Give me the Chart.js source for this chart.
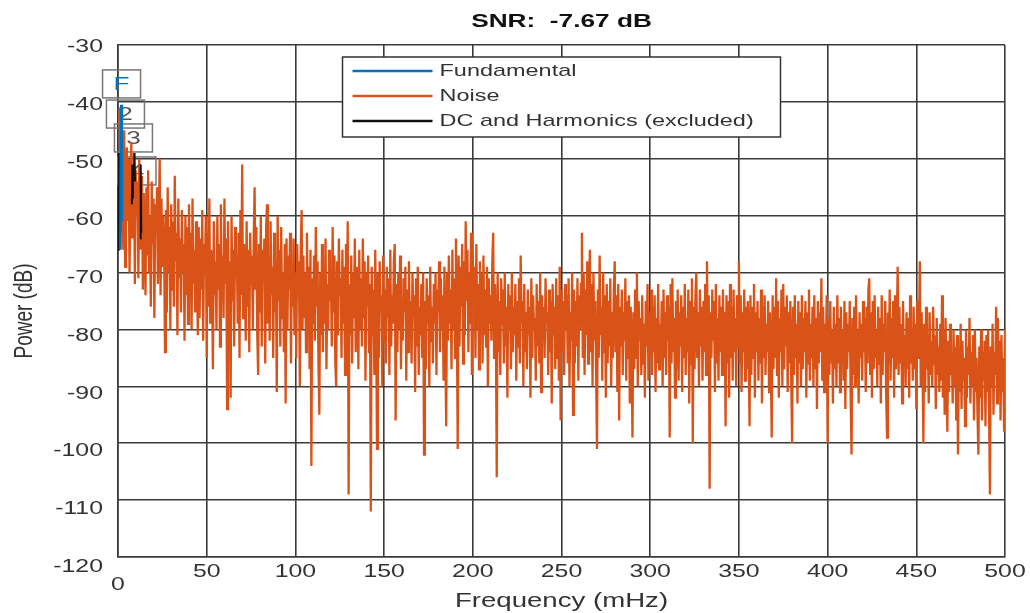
<!DOCTYPE html>
<html>
<head>
<meta charset="utf-8">
<script src="https://cdn.jsdelivr.net/npm/chart.js@4.4.0/dist/chart.umd.min.js"></script>
<style>
  html, body { margin: 0; padding: 0; background: #fff; }
  #wrap { width: 1030px; height: 613px; position: relative; }
</style>
</head>
<body>
<div id="wrap"><canvas id="snrChart"></canvas></div>
<script>
// noise bins every 0.5 mHz from 0.5 to 500 mHz, 5 mHz per row
const binStep = 0.5;
const noiseDb = [
  -44, -41, -63, -47, -58, -66, -45, -69, -52, -48,
  -61, -50, -70, -55, -47, -64, -57, -49, -72, -52,
  -60, -54, -71, -50, -66, -58, -53, -73, -56, -62,
  -74, -55, -67, -52, -70, -60, -76, -54, -65, -57,
  -78, -58, -63, -55, -72, -61, -50, -74, -57, -69,
  -60, -66, -84, -59, -77, -55, -70, -62, -80, -58,
  -73, -61, -76, -53, -68, -63, -81, -57, -71, -64,
  -77, -59, -70, -65, -82, -60, -74, -62, -79, -58,
  -69, -63, -80, -57, -72, -66, -77, -61, -70, -81,
  -62, -78, -64, -73, -59, -82, -65, -70, -60, -85,
  -63, -76, -57, -79, -66, -71, -87, -61, -74, -68,
  -80, -60, -73, -65, -83, -58, -75, -67, -78, -57,
  -72, -64, -94, -61, -80, -68, -92, -60, -75, -66,
  -83, -62, -71, -67, -79, -63, -85, -59, -74, -51,
  -78, -65, -69, -82, -61, -76, -66, -84, -63, -72,
  -67, -80, -64, -55, -73, -62, -81, -88, -65, -77,
  -60, -83, -66, -71, -64, -86, -62, -58, -79, -67,
  -82, -61, -74, -69, -85, -63, -77, -68, -91, -60,
  -75, -66, -83, -62, -78, -70, -84, -65, -93, -64,
  -80, -67, -73, -63, -86, -69, -76, -64, -81, -70,
  -85, -65, -74, -68, -90, -66, -59, -80, -67, -78,
  -70, -84, -63, -77, -69, -87, -66, -104, -71, -79,
  -67, -82, -62, -76, -68, -86, -95, -70, -81, -65,
  -84, -69, -79, -64, -87, -72, -80, -66, -75, -70,
  -83, -62, -77, -67, -86, -90, -68, -81, -64, -74,
  -71, -85, -66, -79, -69, -88, -65, -76, -61, -109,
  -72, -81, -67, -86, -70, -78, -64, -84, -73, -69,
  -87, -66, -80, -71, -83, -64, -78, -68, -89, -70,
  -76, -67, -84, -72, -112, -69, -81, -73, -88, -66,
  -79, -101, -70, -85, -68, -77, -74, -90, -67, -82,
  -73, -86, -69, -78, -71, -88, -66, -83, -74, -79,
  -68, -65, -96, -72, -84, -70, -80, -67, -87, -75,
  -82, -71, -77, -69, -89, -73, -84, -68, -80, -75,
  -86, -70, -78, -74, -91, -71, -83, -69, -88, -76,
  -81, -72, -85, -70, -102, -75, -87, -71, -79, -74,
  -90, -69, -82, -76, -86, -72, -79, -70, -88, -73,
  -77, -68, -84, -71, -80, -74, -89, -69, -83, -97,
  -70, -82, -67, -79, -73, -87, -66, -80, -71, -85,
  -64, -78, -101, -67, -83, -69, -76, -65, -86, -68,
  -81, -61, -75, -66, -84, -70, -79, -63, -88, -67,
  -76, -69, -85, -65, -80, -72, -87, -68, -78, -70,
  -86, -67, -81, -73, -83, -69, -90, -71, -79, -74,
  -82, -68, -63, -85, -72, -80, -106, -70, -84, -75,
  -88, -71, -79, -73, -86, -70, -83, -76, -92, -72,
  -80, -74, -87, -70, -84, -76, -81, -72, -89, -75,
  -83, -71, -86, -67, -79, -75, -90, -72, -84, -77,
  -87, -73, -81, -76, -92, -71, -85, -74, -80, -78,
  -89, -72, -83, -75, -86, -70, -91, -74, -82, -76,
  -85, -71, -79, -77, -88, -73, -84, -75, -93, -72,
  -81, -76, -87, -71, -85, -74, -89, -69, -96, -73,
  -84, -75, -88, -72, -80, -74, -86, -71, -90, -77,
  -82, -70, -95, -73, -86, -75, -83, -71, -89, -74,
  -80, -72, -63, -85, -70, -88, -73, -81, -68, -86,
  -74, -66, -84, -72, -90, -70, -82, -75, -87, -101,
  -73, -85, -67, -81, -76, -89, -70, -84, -74, -92,
  -72, -86, -75, -83, -71, -90, -77, -85, -73, -68,
  -84, -74, -91, -72, -96, -76, -83, -73, -88, -77,
  -82, -71, -89, -75, -85, -74, -93, -76, -84, -99,
  -77, -87, -73, -85, -70, -90, -75, -82, -78, -88,
  -74, -86, -79, -92, -75, -83, -72, -89, -77, -85,
  -73, -88, -76, -84, -74, -91, -78, -86, -72, -87,
  -79, -83, -75, -90, -73, -85, -77, -88, -74, -82,
  -76, -99, -72, -86, -71, -84, -78, -92, -75, -87,
  -73, -89, -77, -83, -74, -91, -76, -85, -72, -88,
  -78, -84, -73, -93, -75, -86, -71, -100, -76, -87,
  -74, -70, -85, -77, -90, -73, -83, -76, -89, -75,
  -84, -72, -88, -68, -86, -74, -108, -77, -85, -73,
  -82, -75, -91, -72, -86, -78, -89, -74, -84, -76,
  -88, -73, -83, -77, -97, -74, -86, -75, -92, -72,
  -85, -76, -89, -73, -84, -78, -90, -74, -83, -68,
  -86, -74, -91, -77, -84, -73, -89, -76, -87, -75,
  -83, -97, -74, -88, -76, -85, -72, -92, -77, -84,
  -75, -89, -78, -86, -73, -93, -76, -85, -74, -88,
  -79, -84, -75, -91, -77, -86, -99, -74, -87, -76,
  -85, -71, -88, -75, -92, -78, -84, -73, -90, -72,
  -87, -76, -83, -74, -91, -77, -86, -75, -89, -100,
  -76, -88, -74, -85, -79, -93, -75, -86, -77, -90,
  -74, -87, -78, -84, -75, -92, -77, -86, -73, -89,
  -79, -85, -76, -90, -74, -87, -78, -94, -75, -86,
  -77, -84, -71, -89, -76, -91, -79, -85, -74, -100,
  -78, -88, -75, -86, -80, -93, -76, -87, -79, -90,
  -74, -86, -78, -91, -76, -85, -80, -89, -75, -94,
  -77, -87, -79, -84, -75, -92, -102, -78, -88, -76,
  -90, -74, -86, -80, -93, -77, -85, -79, -89, -75,
  -84, -78, -91, -76, -86, -73, -71, -88, -77, -92,
  -75, -87, -74, -85, -80, -90, -76, -86, -78, -93,
  -74, -88, -79, -84, -75, -91, -99, -77, -86, -73,
  -89, -78, -85, -75, -92, -74, -87, -80, -69, -88,
  -76, -86, -79, -93, -75, -85, -81, -90, -77, -87,
  -78, -92, -74, -86, -80, -89, -76, -87, -79, -94,
  -75, -85, -80, -68, -90, -77, -86, -100, -79, -91,
  -76, -87, -81, -93, -77, -88, -82, -90, -76, -86,
  -81, -94, -78, -88, -83, -91, -79, -89, -74, -92,
  -80, -95, -78, -89, -98, -82, -91, -79, -88, -84,
  -93, -80, -90, -83, -96, -81, -102, -84, -91, -79,
  -94, -82, -89, -85, -97, -80, -92, -83, -88, -78,
  -93, -84, -90, -81, -96, -80, -91, -85, -95, -102,
  -83, -92, -80, -96, -84, -89, -82, -97, -81, -91,
  -80, -94, -109, -83, -90, -79, -95, -84, -88, -76,
  -93, -78, -89, -82, -96, -81, -91, -85, -98, -80
];
const noiseFreq = noiseDb.map((v, i) => (i + 1) * binStep);

const fundFreq = [1.4, 1.8, 2.2];
const fundDb = [-66, -40.5, -61];

// DC and harmonic bins, null breaks the line between groups
const harmFreq = [0, 0.4, 4, 7.8, 8.1, 8.4, 8.7, 9.0, 9.3, 9.6, 11, 12.5, 12.8, 13.1];
const harmDb = [-66, -49, null, -58, -51, -57, null, -53, -49, -54, null, -64, -51, -63];

const peakLabels = ['F', '2', '3', '4'];
const peakLabelFreq = [2.0, 4.2, 8.7, 10.7];
const peakLabelDb = [-39.3, -44.6, -48.8, -54.6];

const xTicks = [0, 50, 100, 150, 200, 250, 300, 350, 400, 450, 500];
const yTicks = [-30, -40, -50, -60, -70, -80, -90, -100, -110, -120];
const seriesNames = ['Fundamental', 'Noise', 'DC and Harmonics (excluded)'];
const seriesColors = ['#0072BD', '#D95319', '#111111'];

const textColor = '#333333';
const stretch = 1.38;
const fontFamily = '"Liberation Sans", Arial, sans-serif';

function toPoints(xs, ys) {
    return xs.map((x, i) => ({ x: x, y: ys[i] }));
}

function wideText(ctx, text, x, y, align, size, weight, color) {
    ctx.save();
    ctx.translate(x, y);
    ctx.scale(stretch, 1);
    ctx.font = (weight || 'normal') + ' ' + size + 'px ' + fontFamily;
    ctx.fillStyle = color || textColor;
    ctx.textAlign = align;
    ctx.textBaseline = 'middle';
    ctx.fillText(text, 0, 0);
    ctx.restore();
}

// tick labels, axis titles and chart title
const textPlugin = {
    id: 'matlabText',
    afterDraw(chart) {
        const ctx = chart.ctx;
        const xs = chart.scales.x, ys = chart.scales.y;
        const area = chart.chartArea;
        yTicks.forEach(v => {
            const drift = 2 + (-30 - v) * 0.09;
            wideText(ctx, String(v), area.left - 15, ys.getPixelForValue(v) + drift, 'right', 18);
        });
        xTicks.forEach(v => {
            const y = v === 0 ? area.bottom + 28 : area.bottom + 15;
            wideText(ctx, String(v), xs.getPixelForValue(v), y, 'center', 18);
        });
        wideText(ctx, 'Frequency (mHz)', (area.left + area.right) / 2, area.bottom + 44, 'center', 20);
        wideText(ctx, 'SNR:  -7.67 dB', (area.left + area.right) / 2, 22, 'center', 19, 'bold', '#111');

        ctx.save();
        ctx.translate(25, (area.top + area.bottom) / 2 + 10);
        ctx.rotate(-Math.PI / 2);
        ctx.scale(1, stretch);
        ctx.font = '19px ' + fontFamily;
        ctx.fillStyle = textColor;
        ctx.textAlign = 'center';
        ctx.textBaseline = 'middle';
        ctx.fillText('Power (dB)', 0, 0);
        ctx.restore();
    }
};

// boxed peak markers (F, 2, 3, ...) behind the traces
const peakLabelPlugin = {
    id: 'peakLabels',
    beforeDatasetsDraw(chart) {
        const ctx = chart.ctx;
        const xs = chart.scales.x, ys = chart.scales.y;
        const w = 38, h = 28;
        peakLabels.forEach((txt, i) => {
            const cx = xs.getPixelForValue(peakLabelFreq[i]);
            const by = ys.getPixelForValue(peakLabelDb[i]);
            ctx.save();
            ctx.strokeStyle = '#777';
            ctx.lineWidth = 1.5;
            ctx.strokeRect(cx - w / 2, by - h, w, h);
            ctx.restore();
            wideText(ctx, txt, cx, by - h / 2 + 1, 'center', 19, 'normal', i === 0 ? seriesColors[0] : '#555');
        });
    }
};

// legend box at the top centre of the axes
const legendPlugin = {
    id: 'boxLegend',
    afterDraw(chart) {
        const ctx = chart.ctx;
        const area = chart.chartArea;
        const bw = 438, bh = 80;
        const left = (area.left + area.right) / 2 - bw / 2;
        const top = area.top + 12;
        ctx.save();
        ctx.fillStyle = '#fff';
        ctx.fillRect(left, top, bw, bh);
        ctx.strokeStyle = '#333';
        ctx.lineWidth = 1.5;
        ctx.strokeRect(left, top, bw, bh);
        seriesNames.forEach((name, i) => {
            const y = top + 14 + i * 25;
            ctx.strokeStyle = seriesColors[i];
            ctx.lineWidth = 2.5;
            ctx.beginPath();
            ctx.moveTo(left + 10, y);
            ctx.lineTo(left + 90, y);
            ctx.stroke();
            wideText(ctx, name, left + 97, y, 'left', 17);
        });
        ctx.restore();
    }
};

const gridColor = '#3a3a3a';

new Chart(document.getElementById('snrChart'), {
    type: 'line',
    data: {
        datasets: [
            {
                label: seriesNames[0],
                data: toPoints(fundFreq, fundDb),
                borderColor: seriesColors[0],
                borderWidth: 2.5,
                pointRadius: 0
            },
            {
                label: seriesNames[2],
                data: toPoints(harmFreq, harmDb),
                borderColor: seriesColors[2],
                borderWidth: 2,
                pointRadius: 0,
                spanGaps: false
            },
            {
                label: seriesNames[1],
                data: toPoints(noiseFreq, noiseDb),
                borderColor: seriesColors[1],
                borderWidth: 2.3,
                pointRadius: 0
            }
        ]
    },
    options: {
        responsive: true,
        maintainAspectRatio: false,
        animation: false,
        layout: { padding: { top: 45, right: 25, left: 0, bottom: 0 } },
        plugins: {
            legend: { display: false },
            tooltip: { enabled: false },
            title: { display: false }
        },
        scales: {
            x: {
                type: 'linear',
                min: 0,
                max: 500,
                ticks: { stepSize: 50, display: false },
                grid: { color: gridColor, lineWidth: 1.6, drawTicks: false },
                border: { color: gridColor, width: 1.6 },
                afterFit(scale) { scale.height = 56; }
            },
            y: {
                min: -120,
                max: -30,
                ticks: { stepSize: 10, display: false },
                grid: { color: gridColor, lineWidth: 1.6, drawTicks: false },
                border: { color: gridColor, width: 1.6 },
                afterFit(scale) { scale.width = 118; }
            }
        }
    },
    plugins: [peakLabelPlugin, textPlugin, legendPlugin]
});
</script>
</body>
</html>
